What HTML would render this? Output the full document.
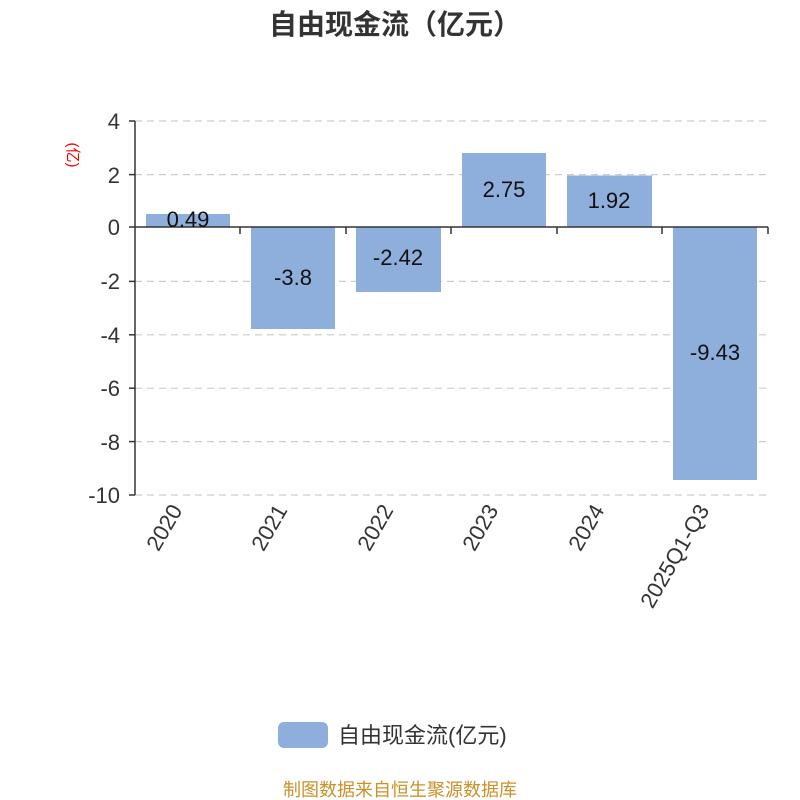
<!DOCTYPE html>
<html><head><meta charset="utf-8"><style>body{margin:0;background:#fff}svg{display:block}</style></head><body>
<svg width="800" height="800" xmlns="http://www.w3.org/2000/svg" font-family="Liberation Sans, Noto Sans CJK SC, sans-serif">
<rect width="800" height="800" fill="#fff"/>
<text x="395" y="34" text-anchor="middle" font-size="28" font-weight="bold" fill="#333">自由现金流（亿元）</text>
<text transform="translate(68,155) rotate(90)" text-anchor="middle" font-size="15" fill="#e00">(亿)</text>
<g stroke="#ccc" stroke-width="1.2" stroke-dasharray="7,5">
<line x1="135" y1="121" x2="768" y2="121"/><line x1="135" y1="174.6" x2="768" y2="174.6"/>
<line x1="135" y1="281.4" x2="768" y2="281.4"/><line x1="135" y1="334.8" x2="768" y2="334.8"/>
<line x1="135" y1="388.2" x2="768" y2="388.2"/><line x1="135" y1="441.6" x2="768" y2="441.6"/>
<line x1="135" y1="495" x2="768" y2="495"/>
</g>
<g fill="#8eaedb">
<rect x="146" y="214" width="84" height="13"/>
<rect x="251" y="227" width="84" height="102"/>
<rect x="356" y="227" width="85" height="65"/>
<rect x="462" y="153" width="84" height="74"/>
<rect x="567" y="175.5" width="85" height="51.5"/>
<rect x="673" y="227" width="84" height="253"/>
</g>
<g stroke="#333" stroke-width="1.5">
<line x1="135" y1="121" x2="135" y2="495"/>
<line x1="135" y1="227" x2="768" y2="227"/>
<line x1="129" y1="121" x2="135" y2="121"/><line x1="129" y1="174.6" x2="135" y2="174.6"/>
<line x1="129" y1="227" x2="135" y2="227"/><line x1="129" y1="281.4" x2="135" y2="281.4"/>
<line x1="129" y1="334.8" x2="135" y2="334.8"/><line x1="129" y1="388.2" x2="135" y2="388.2"/>
<line x1="129" y1="441.6" x2="135" y2="441.6"/><line x1="129" y1="495" x2="135" y2="495"/>
<line x1="240" y1="227" x2="240" y2="234"/><line x1="346" y1="227" x2="346" y2="234"/>
<line x1="451" y1="227" x2="451" y2="234"/><line x1="557" y1="227" x2="557" y2="234"/>
<line x1="662" y1="227" x2="662" y2="234"/><line x1="768" y1="227" x2="768" y2="234"/>
</g>
<g font-size="22" fill="#333" text-anchor="end">
<text x="120" y="129">4</text><text x="120" y="183">2</text><text x="120" y="235">0</text>
<text x="120" y="289">-2</text><text x="120" y="343">-4</text><text x="120" y="396">-6</text>
<text x="120" y="450">-8</text><text x="120" y="503">-10</text>
</g>
<g font-size="22" fill="#111" text-anchor="middle">
<text x="188" y="227">0.49</text><text x="293" y="285">-3.8</text><text x="398" y="265">-2.42</text>
<text x="504" y="197">2.75</text><text x="609" y="208">1.92</text><text x="715" y="360">-9.43</text>
</g>
<g font-size="22" fill="#333" text-anchor="end">
<text transform="translate(183,510) rotate(-60)">2020</text>
<text transform="translate(288,510) rotate(-60)">2021</text>
<text transform="translate(394,510) rotate(-60)">2022</text>
<text transform="translate(499,510) rotate(-60)">2023</text>
<text transform="translate(605,510) rotate(-60)">2024</text>
<text transform="translate(710,510) rotate(-60)">2025Q1-Q3</text>
</g>
<rect x="278" y="722" width="50" height="26" rx="6" fill="#8eaedb"/>
<text x="338" y="743" font-size="22" fill="#333">自由现金流(亿元)</text>
<text x="400" y="796" text-anchor="middle" font-size="18" fill="#c8912a">制图数据来自恒生聚源数据库</text>
</svg>
</body></html>
